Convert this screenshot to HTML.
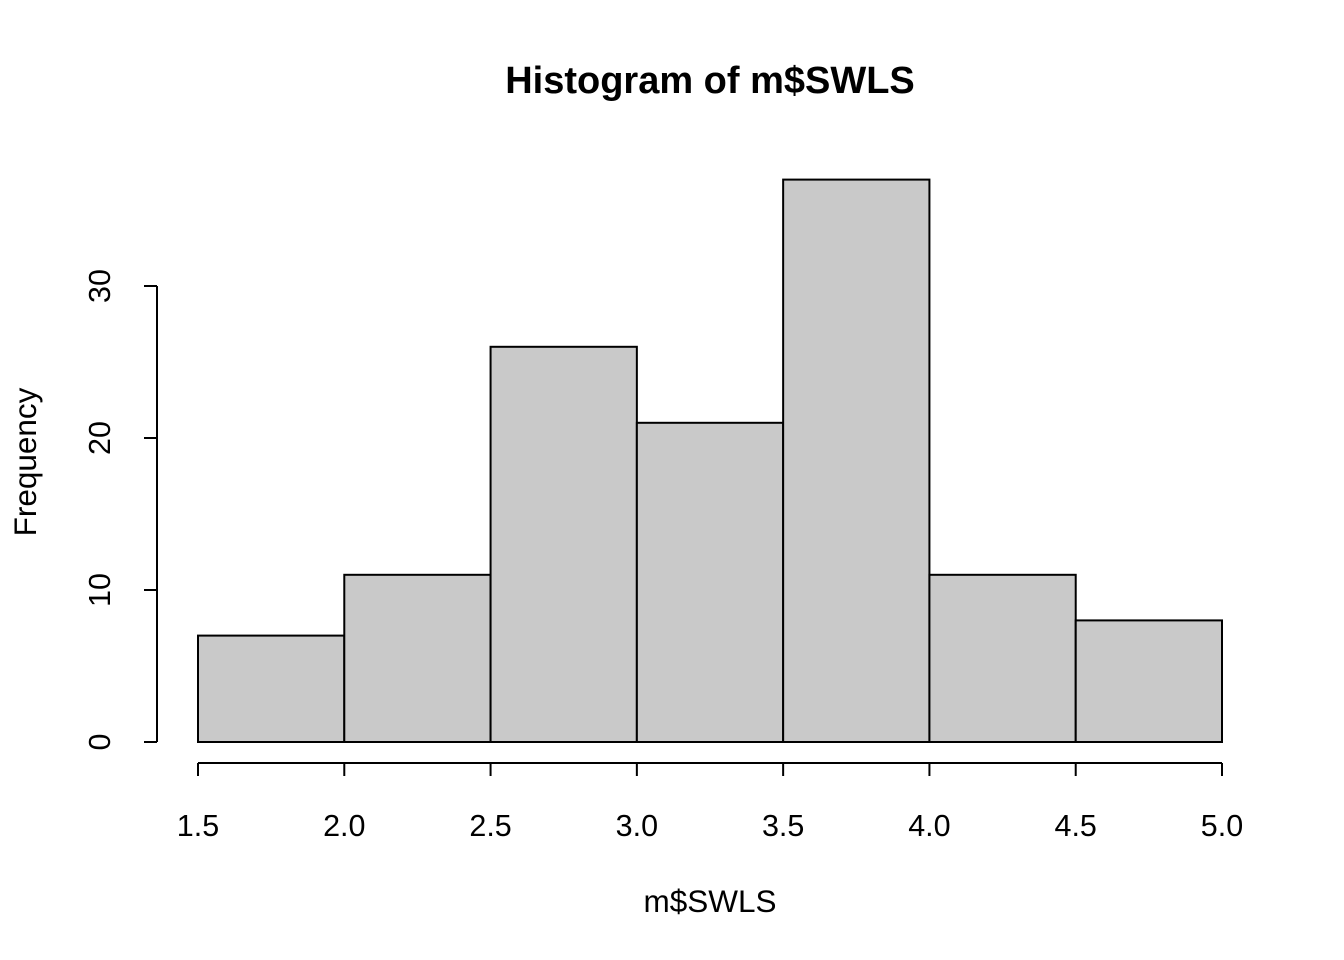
<!DOCTYPE html>
<html><head><meta charset="utf-8"><style>
html,body{margin:0;padding:0;background:#fff;}
svg{display:block;font-family:"Liberation Sans",Arial,sans-serif;}
</style></head><body>
<svg id="chart" width="1344" height="960" viewBox="0 0 1344 960">
<text x="710" y="93" text-anchor="middle" font-size="38" font-weight="bold">Histogram of m$SWLS</text>
<text x="710" y="912" text-anchor="middle" font-size="31.5">m$SWLS</text>
<text transform="translate(36,462) rotate(-90)" text-anchor="middle" font-size="31.5">Frequency</text>
<g id="bars"></g>
<g id="xaxis"></g>
<g id="yaxis"></g>
</svg>
<script>
const binEdges = [1.5, 2.0, 2.5, 3.0, 3.5, 4.0, 4.5, 5.0];
const counts = [7, 11, 26, 21, 37, 11, 8];
const xTicks = [1.5, 2.0, 2.5, 3.0, 3.5, 4.0, 4.5, 5.0];
const yTicks = [0, 10, 20, 30];

const NS = "http://www.w3.org/2000/svg";
function xs(v){ return 198 + (v - 1.5) / 3.5 * 1024; }
function ys(v){ return 742 - v * 15.2; }
function mk(tag, attrs, parent){
  const e = document.createElementNS(NS, tag);
  for (const k in attrs) e.setAttribute(k, attrs[k]);
  parent.appendChild(e);
  return e;
}
const bars = document.getElementById('bars');
counts.forEach((c, i) => {
  const x0 = xs(binEdges[i]), x1 = xs(binEdges[i+1]);
  const r = mk('rect', {x:x0, y:ys(c), width:x1-x0, height:ys(0)-ys(c), fill:'#c9c9c9', stroke:'#000', 'stroke-width':2}, bars);
  
  
});
const xa = document.getElementById('xaxis');
mk('line', {x1:xs(xTicks[0]), x2:xs(xTicks[xTicks.length-1]), y1:763, y2:763, stroke:'#000','stroke-width':2}, xa);
xTicks.forEach(t => {
  mk('line', {x1:xs(t), x2:xs(t), y1:763, y2:776, stroke:'#000','stroke-width':2}, xa);
  const tx = mk('text', {x:xs(t), y:836, 'text-anchor':'middle', 'font-size':30.5}, xa);
  tx.textContent = t.toFixed(1);
  
  
});
const ya = document.getElementById('yaxis');
mk('line', {x1:157, x2:157, y1:ys(yTicks[0]), y2:ys(yTicks[yTicks.length-1]), stroke:'#000','stroke-width':2}, ya);
yTicks.forEach(t => {
  mk('line', {x1:144, x2:157, y1:ys(t), y2:ys(t), stroke:'#000','stroke-width':2}, ya);
  const tx = mk('text', {transform:'translate(110,'+ys(t)+') rotate(-90)', 'text-anchor':'middle', 'font-size':30.5}, ya);
  tx.textContent = String(t);
  
  
});
</script>
</body></html>
